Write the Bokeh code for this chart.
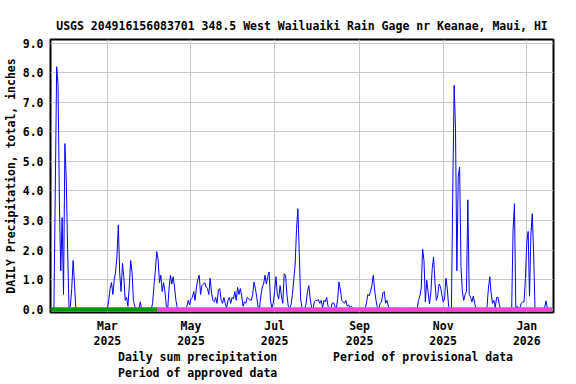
import pandas as pd
from bokeh.plotting import figure
from bokeh.layouts import column
from bokeh.models import (Range1d, FixedTicker, PrintfTickFormatter, Legend,
                          LegendItem, DatetimeAxis)
from bokeh.embed import file_html
from bokeh.resources import INLINE

TITLE = "USGS 204916156083701 348.5 West Wailuaiki Rain Gage nr Keanae, Maui, HI"
Y_LABEL = "DAILY Precipitation, total, inches"

# Daily sum precipitation (inches), first value = 2025-01-19
first_day = "2025-01-19"
jan_2025 = [0, 0, 0, 4.1, 8.2, 7.6, 3.6, 1.3, 3.1, 0.5, 5.6, 4.4, 2.0]
feb_2025 = [0.05, 0.1, 0.7, 1.65, 0.85, 0, 0, 0, 0, 0, 0, 0, 0, 0, 0, 0, 0, 0,
            0, 0, 0, 0, 0, 0, 0, 0, 0, 0]
mar_2025 = [0, 0.3, 0.7, 0.9, 0.5, 1.0, 1.26, 1.8, 2.85, 1.2, 0.6, 1.55, 1.1, 0.3,
            0.4, 0.1, 0.8, 1.65, 1.25, 0.3, 0.1, 0, 0, 0, 0.25, 0, 0, 0, 0, 0, 0]
apr_2025 = [0, 0, 0.2, 0.8, 1.3, 1.95, 1.7, 0.9, 1.15, 0.6, 0.9, 0.6, 0.1, 0, 0.7,
            1.15, 0.85, 1.1, 0.75, 0.3, 0.05, 0, 0, 0, 0, 0, 0, 0.1, 0.3, 0.15]
may_2025 = [0.35, 0.4, 0.6, 0.3, 0.75, 1.0, 1.15, 0.5, 0.8, 0.85, 0.9, 0.75, 0.7,
            0.5, 1.05, 0.55, 0.3, 0.25, 0.4, 0.2, 0.65, 0.7, 0.3, 0.2, 0.4, 0.2,
            0.05, 0.3, 0.4, 0.2, 0.4]
jun_2025 = [0.35, 0.6, 0.3, 0.74, 0.5, 0.7, 0.45, 0.1, 0.25, 0.2, 0.4, 0.35, 0.33,
            0.3, 0.5, 0.92, 0.7, 0.4, 0.05, 0.05, 0.45, 0.75, 0.85, 1.15, 0.85,
            1.1, 1.26, 0.3, 0.05, 0.2]
jul_2025 = [0.6, 1.1, 0.5, 0.35, 0.8, 0.45, 0.2, 1.2, 1.15, 0.5, 0.1, 0.05, 0.15,
            0.5, 1.0, 1.5, 2.7, 3.4, 1.9, 0.35, 0.05, 0, 0, 0.2, 0.6, 0.8, 0.35,
            0.05, 0, 0.25, 0.3]
aug_2025 = [0.3, 0.32, 0.2, 0.3, 0.05, 0.3, 0.25, 0.4, 0.1, 0.05, 0, 0.2, 0.22,
            0.1, 0, 0.35, 0.92, 0.65, 0.3, 0.25, 0.2, 0.3, 0.1, 0.15, 0.05, 0.1,
            0.05, 0, 0, 0, 0]
sep_2025 = [0, 0.05, 0, 0, 0, 0.2, 0.5, 0.45, 0.6, 0.8, 1.15, 0.65, 0.3, 0.05, 0,
            0.2, 0.25, 0.55, 0.6, 0.2, 0.3, 0.1, 0, 0, 0, 0, 0, 0, 0.05, 0.02]
oct_2025 = [0, 0, 0, 0, 0, 0, 0.05, 0, 0, 0, 0.05, 0, 0, 0.3, 0.45, 0.7, 2.03,
            1.65, 0.25, 0.98, 0.6, 0.18, 0.55, 1.37, 1.76, 0.92, 0.3, 0.45, 0.85,
            0.77, 0.5]
nov_2025 = [0.25, 0.35, 1.05, 0.7, 0.1, 0, 0, 3.9, 7.57, 6.1, 1.3, 4.5, 4.8, 1.45,
            0.6, 0.3, 0.5, 0.6, 3.7, 0.5, 0.4, 0.25, 0.45, 0.2, 0, 0, 0, 0, 0, 0]
dec_2025 = [0, 0, 0.08, 0.7, 1.1, 0.55, 0.2, 0.3, 0.05, 0.4, 0.4, 0.15, 0, 0, 0, 0,
            0, 0, 0, 0, 0.05, 2.67, 3.57, 0, 0.1, 0, 0.05, 0.2, 0.25, 0.25, 1.04]
jan_2026 = [2.27, 2.63, 0.44, 2.5, 3.23, 1.9, 0, 0, 0, 0, 0, 0, 0, 0.05, 0.28,
            0.05, 0, 0, 0]

approved_period = ["2025-01-18 12:00", "2025-04-06 12:00"]
provisional_period = ["2025-04-06 12:00", "2026-01-19 12:00"]
x_window = ["2025-01-18 12:00", "2026-01-20 12:00"]

x_tick_dates = ["2025-03-01", "2025-05-01", "2025-07-01", "2025-09-01",
                "2025-11-01", "2026-01-01"]
x_tick_months = ["Mar", "May", "Jul", "Sep", "Nov", "Jan"]
x_tick_years = ["2025", "2025", "2025", "2025", "2025", "2026"]
y_ticks = [0, 1, 2, 3, 4, 5, 6, 7, 8, 9]

legend_labels = ["Daily sum precipitation", "Period of approved data",
                 "Period of provisional data"]

values = (jan_2025 + feb_2025 + mar_2025 + apr_2025 + may_2025 + jun_2025 +
          jul_2025 + aug_2025 + sep_2025 + oct_2025 + nov_2025 + dec_2025 + jan_2026)
dates = pd.date_range(first_day, periods=len(values), freq="D")

def ms(s):
    return pd.Timestamp(s).value / 1e6

FONT = "DejaVu Sans Mono"
FS = "11.5px"
BLUE, GREEN, PINK = "#0000ff", "#009900", "#ee44dd"

p = figure(frame_width=503, frame_height=273, x_axis_type="datetime",
           output_backend="svg", toolbar_location=None,
           x_range=Range1d(ms(x_window[0]), ms(x_window[1])),
           y_range=Range1d(-0.11, 9.12),
           min_border_left=44, min_border_right=13,
           min_border_top=39, min_border_bottom=36)

p.title.text = TITLE
p.title.align = "center"
p.title.text_font = FONT
p.title.text_font_size = FS
p.title.text_font_style = "bold"
p.title.text_color = "black"
p.title.standoff = 13

p.outline_line_color = "black"
p.outline_line_width = 2
p.background_fill_color = "white"
p.border_fill_color = "white"

p.xgrid.grid_line_color = "#c8c8c8"
p.ygrid.grid_line_color = "#c8c8c8"
p.xgrid.grid_line_width = 1
p.ygrid.grid_line_width = 1

tick_ms = [ms(d) for d in x_tick_dates]
p.xaxis.ticker = FixedTicker(ticks=tick_ms)
p.xaxis.major_label_overrides = {t: l for t, l in zip(tick_ms, x_tick_months)}
year_axis = DatetimeAxis(ticker=FixedTicker(ticks=tick_ms),
                         major_label_overrides={t: l for t, l in zip(tick_ms, x_tick_years)})
p.add_layout(year_axis, "below")
p.yaxis.ticker = FixedTicker(ticks=y_ticks)
p.yaxis.formatter = PrintfTickFormatter(format="%.1f")
p.yaxis.axis_label = Y_LABEL

for ax in (p.xaxis[0], year_axis, p.yaxis[0]):
    ax.axis_line_color = None
    ax.major_tick_line_color = None
    ax.minor_tick_line_color = None
    ax.major_tick_out = 0
    ax.major_tick_in = 0
    ax.minor_tick_out = 0
    ax.minor_tick_in = 0
    ax.major_label_text_font = FONT
    ax.major_label_text_font_size = FS
    ax.major_label_text_font_style = "bold"
    ax.major_label_text_color = "black"
    ax.axis_label_text_font = FONT
    ax.axis_label_text_font_size = FS
    ax.axis_label_text_font_style = "bold"
    ax.axis_label_text_color = "black"

p.xaxis[0].major_label_standoff = 6
year_axis.major_label_standoff = 0
p.yaxis.major_label_standoff = 7
p.yaxis.axis_label_standoff = 2

p.line(dates, values, line_color=BLUE, line_width=1)
p.line([pd.Timestamp(d) for d in provisional_period], [0, 0],
       line_color=PINK, line_width=4)
p.line([pd.Timestamp(d) for d in approved_period], [0, 0],
       line_color=GREEN, line_width=4)

# legend strip below the chart (its frame is aligned with the chart's frame)
lg = figure(width=560, height=32, output_backend="svg",
            toolbar_location=None, x_range=Range1d(0, 1), y_range=Range1d(0, 1),
            x_axis_location=None, y_axis_location=None,
            min_border_left=0, min_border_right=0, min_border_top=0,
            min_border_bottom=0)
lg.outline_line_color = None
lg.xgrid.visible = False
lg.ygrid.visible = False
lr1 = lg.line([], [], line_color=BLUE, line_width=1)
lr2 = lg.line([], [], line_color=GREEN, line_width=4)
lr3 = lg.line([], [], line_color=PINK, line_width=4)
legend = Legend(items=[
    LegendItem(label=legend_labels[0], renderers=[lr1]),
    LegendItem(label=legend_labels[1], renderers=[lr2]),
    LegendItem(label=legend_labels[2], renderers=[lr3]),
], orientation="vertical", nrows=2, location=(45, 0))
legend.label_text_font = FONT
legend.label_text_font_size = FS
legend.label_text_font_style = "bold"
legend.label_text_color = "black"
legend.glyph_width = 18
legend.glyph_height = 14
legend.label_standoff = 5
legend.label_width = 190
legend.label_height = 14
legend.spacing = 2
legend.padding = 0
legend.margin = 0
legend.border_line_color = None
legend.background_fill_alpha = 0
lg.add_layout(legend)

layout = column(p, lg, spacing=0)
open("out.html", "w").write(file_html(layout, INLINE))
